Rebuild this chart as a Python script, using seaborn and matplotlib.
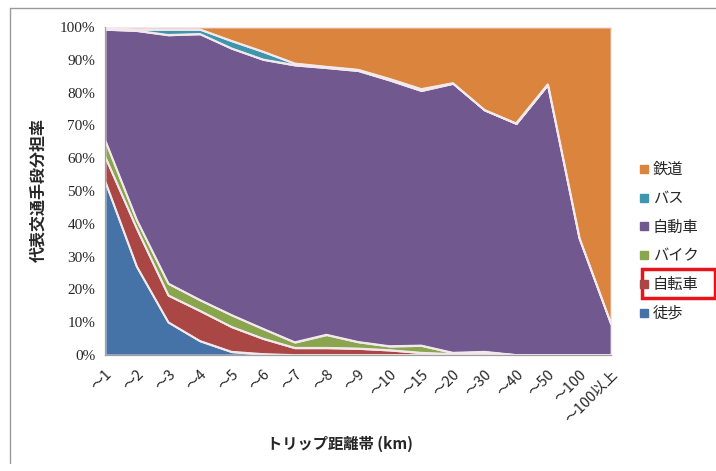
import matplotlib
matplotlib.use("Agg")
import matplotlib.pyplot as plt
from matplotlib.lines import Line2D
from matplotlib.patches import Rectangle
import numpy as np
import pandas as pd
import seaborn as sns

# distance bands (km)
bands = ["～1", "～2", "～3", "～4", "～5", "～6", "～7", "～8", "～9", "～10",
         "～15", "～20", "～30", "～40", "～50", "～100", "～100以上"]

# modal share (%) per distance band
walk    = [53.0, 27.0, 10.0, 4.3, 1.0, 0.3, 0.0, 0.0, 0.0, 0.0, 0.0, 0.0, 0.0, 0.0, 0.0, 0.0, 0.0]
bicycle = [7.5, 11.6, 8.2, 9.2, 7.6, 4.7, 2.2, 2.2, 2.0, 1.5, 0.7, 0.3, 0.8, 0.0, 0.0, 0.0, 0.0]
moto    = [5.0, 2.6, 3.6, 3.3, 3.6, 3.0, 1.7, 4.0, 2.0, 1.2, 2.2, 0.4, 0.2, 0.0, 0.0, 0.0, 0.0]
car     = [33.8, 57.7, 75.8, 81.1, 81.3, 82.1, 84.5, 81.4, 82.7, 81.1, 77.7, 82.1, 73.7, 70.6, 82.5, 35.6, 9.5]
bus     = [0.2, 0.4, 1.7, 1.4, 2.3, 2.4, 0.5, 0.3, 0.3, 0.4, 0.5, 0.1, 0.0, 0.0, 0.0, 0.0, 0.0]
rail    = [0.5, 0.7, 0.7, 0.7, 4.2, 7.5, 11.1, 12.1, 13.0, 15.8, 18.9, 17.1, 25.3, 29.4, 17.5, 64.4, 90.5]

modes = ["徒歩", "自転車", "バイク", "自動車", "バス", "鉄道"]
colors = ["#4572A7", "#AA4643", "#89A54E", "#71588F", "#3D96AE", "#DB843D"]

df = pd.DataFrame({"band": bands, "徒歩": walk, "自転車": bicycle, "バイク": moto,
                   "自動車": car, "バス": bus, "鉄道": rail})

sns.set_theme(style="white")
plt.rcParams["font.family"] = ["Noto Sans CJK JP", "DejaVu Sans"]

fig = plt.figure(figsize=(7.16, 4.71), dpi=100)
ax = fig.add_axes([105 / 716, 1 - 355 / 471, 506 / 716, 328 / 471])

x = np.arange(len(bands))
ax.stackplot(x, [df[m] for m in modes], colors=colors,
             edgecolor="#F3E9EC", linewidth=1.3)

# boundary lines between the stacked layers
cum = np.cumsum(np.array([df[m] for m in modes]), axis=0)
for row in cum[:-1]:
    sns.lineplot(x=x, y=row, ax=ax, color="#F3E9EC", linewidth=1.3, legend=False)

ax.set_xlim(0, len(bands) - 1)
ax.set_ylim(0, 100)
ax.set_yticks(np.arange(0, 101, 10))
ax.set_yticklabels([f"{v}%" for v in range(0, 101, 10)],
                   family=["Liberation Serif"], fontsize=11)
ax.set_xticks(x)
ax.set_xticklabels(bands, rotation=45, ha="right", rotation_mode="anchor", fontsize=10.5)

for side in ["top", "right"]:
    ax.spines[side].set_visible(False)
for side in ["left", "bottom"]:
    ax.spines[side].set_color("#A0A0A0")
    ax.spines[side].set_linewidth(0.9)
ax.tick_params(axis="both", which="major", direction="out", length=4,
               color="#A0A0A0", width=0.9, pad=3)
ax.tick_params(axis="x", pad=4, length=5)
ax.set_xlabel("")
ax.set_ylabel("")

fig.text(340 / 716, 1 - 444 / 471, "トリップ距離帯 (km)", ha="center", va="center",
         fontsize=11, fontweight="bold")
fig.text(38 / 716, 1 - 190 / 471, "代表交通手段分担率", ha="center", va="center",
         rotation=90, fontsize=11.5, fontweight="bold")

# legend (top to bottom: upper layers first)
handles = [Line2D([0], [0], marker="s", linestyle="none", markersize=6,
                  markerfacecolor=c, markeredgecolor=c) for c in colors[::-1]]
fig.legend(handles, modes[::-1], loc="upper left",
           bbox_to_anchor=(632 / 716, 1 - 155 / 471), frameon=False,
           fontsize=11, labelspacing=0.77, handletextpad=0.15, handlelength=0.8,
           borderaxespad=0)

# highlight box around the bicycle entry
fig.add_artist(Rectangle((642 / 716, 1 - 298 / 471), 73 / 716, 29 / 471,
                         transform=fig.transFigure, fill=False,
                         edgecolor="#E8141C", linewidth=2.5))

# outer frame lines
fig.add_artist(Line2D([10 / 716, 10 / 716], [1 - 463 / 471, 1 - 8 / 471],
                      transform=fig.transFigure, color="#9A9A9A", linewidth=1))
fig.add_artist(Line2D([10 / 716, 1], [1 - 8 / 471, 1 - 8 / 471],
                      transform=fig.transFigure, color="#9A9A9A", linewidth=1))

fig.savefig("out.png", dpi=100)
